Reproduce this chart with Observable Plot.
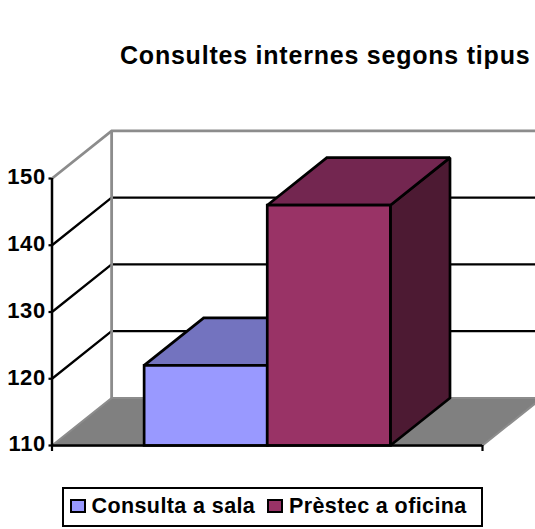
<!DOCTYPE html>
<html>
<head>
<meta charset="utf-8">
<script src="https://cdn.jsdelivr.net/npm/d3@7"></script>
<script src="https://cdn.jsdelivr.net/npm/@observablehq/plot@0.6"></script>
<style>
  html, body { margin: 0; padding: 0; background: #fff; overflow: hidden; }
  body { width: 535px; height: 529px; font-family: "Liberation Sans", Arial, sans-serif; font-weight: bold; color: #000; }
  #title { height: 100px; box-sizing: border-box; padding-left: 120px; padding-top: 41px; font-size: 25px; letter-spacing: 0.78px; line-height: 28px; white-space: nowrap; }
  #chart svg { display: block; overflow: hidden; }
  #legend { position: relative; margin: 17px 0 0 62px; width: 421px; height: 40px; box-sizing: border-box; border: 2px solid #000; font-size: 21.5px; letter-spacing: 0.4px; }
  #legend .sw { position: absolute; top: 10px; width: 12px; height: 10px; box-sizing: content-box; border: 2px solid #000; }
  #legend .tx { position: absolute; top: 5px; line-height: 24px; white-space: nowrap; }
</style>
</head>
<body>
<div id="title"></div>
<div id="chart"></div>
<div id="legend"></div>
<script>
const chartTitle = "Consultes internes segons tipus";
const seriesNames = ["Consulta a sala", "Prèstec a oficina"];
const seriesValues = [122, 146];
const valueTicks = [110, 120, 130, 140, 150];
const frontColors = ["#9999FF", "#993366"];
const topColors = ["#7373BF", "#732650"];
const sideColors = ["#4D4D80", "#4D1A33"];

// Oblique projection: depth 0..1 shifts a point right (in x units) and up (in value units).
const depthX = 0.1385;
const depthV = 7.12;
const base = valueTicks[0];
const vMax = valueTicks[valueTicks.length - 1];
const xEnd = 1;
const P = (x, v, d) => ({px: x + d * depthX, pv: v + d * depthV});
const loop = (pts) => [...pts, pts[0], pts[1]];
const poly = (pts, fill, stroke, strokeWidth) =>
  Plot.line(pts, {x: "px", y: "pv", fill, stroke, strokeWidth, strokeLinejoin: "miter", strokeMiterlimit: 2, strokeLinecap: "butt"});

const marks = [];

// Walls: grid lines
for (const t of valueTicks.slice(1, -1)) {
  marks.push(poly([P(0, t, 0), P(0, t, 1), P(xEnd, t, 1)], "none", "#000", 2.3));
}
// Floor
marks.push(poly([P(0, base, 0), P(0, base, 1), P(xEnd, base, 1), P(xEnd, base, 0), P(0, base, 0)], "#808080", "#8c8c8c", 2));
// Wall frame
marks.push(poly([P(0, vMax, 0), P(0, vMax, 1), P(xEnd, vMax, 1)], "none", "#8c8c8c", 2.8));
marks.push(poly([P(0, vMax, 1), P(0, base, 1)], "none", "#8c8c8c", 2.8));

// Bars
const gap = 0.214;
const barW = (1 - 2 * gap) / seriesValues.length;
seriesValues.forEach((v, i) => {
  const x0 = gap + i * barW, x1 = x0 + barW;
  marks.push(poly(loop([P(x1, base, 0), P(x1, base, 1), P(x1, v, 1), P(x1, v, 0)]), sideColors[i], "#000", 2.7));
  marks.push(poly(loop([P(x0, v, 0), P(x0, v, 1), P(x1, v, 1), P(x1, v, 0)]), topColors[i], "#000", 2.7));
  marks.push(poly(loop([P(x0, base, 0), P(x0, v, 0), P(x1, v, 0), P(x1, base, 0)]), frontColors[i], "#000", 2.7));
});

// Front axes
marks.push(Plot.ruleX([0], {y1: base, y2: vMax, stroke: "#000", strokeWidth: 2.5}));
marks.push(Plot.ruleY([base], {x1: 0, x2: xEnd, stroke: "#000", strokeWidth: 2.5}));
marks.push(Plot.axisY({ticks: valueTicks, tickSize: 3, tickPadding: 3, label: null, stroke: "#000", strokeWidth: 2.2, fill: "#000", fontSize: 22, fontWeight: "bold", fontFamily: "Liberation Sans", strokeOpacity: 1}));
marks.push(Plot.axisX({ticks: [0, xEnd], tickSize: 6, tickFormat: () => "", label: null, stroke: "#000", strokeWidth: 2.2, strokeOpacity: 1}));

const plot = Plot.plot({
  width: 535,
  height: 370,
  marginLeft: 51.5,
  marginRight: 53,
  marginTop: 78,
  marginBottom: 25,
  clip: false,
  style: {letterSpacing: "0.7px"},
  x: {domain: [0, xEnd], axis: null},
  y: {domain: [base, vMax], axis: null},
  marks
});
document.getElementById("chart").append(plot);
plot.querySelectorAll('[aria-label="y-axis tick label"] text').forEach(t => t.setAttribute("dy", "-0.05em"));
document.getElementById("title").textContent = chartTitle;

const legend = document.getElementById("legend");
const swatchX = [6, 203];
const textX = [27.5, 225];
seriesNames.forEach((name, i) => {
  const s = document.createElement("div");
  s.className = "sw";
  s.style.left = swatchX[i] + "px";
  s.style.background = frontColors[i];
  legend.append(s);
  const t = document.createElement("div");
  t.className = "tx";
  t.style.left = textX[i] + "px";
  t.textContent = name;
  legend.append(t);
});
</script>
</body>
</html>
